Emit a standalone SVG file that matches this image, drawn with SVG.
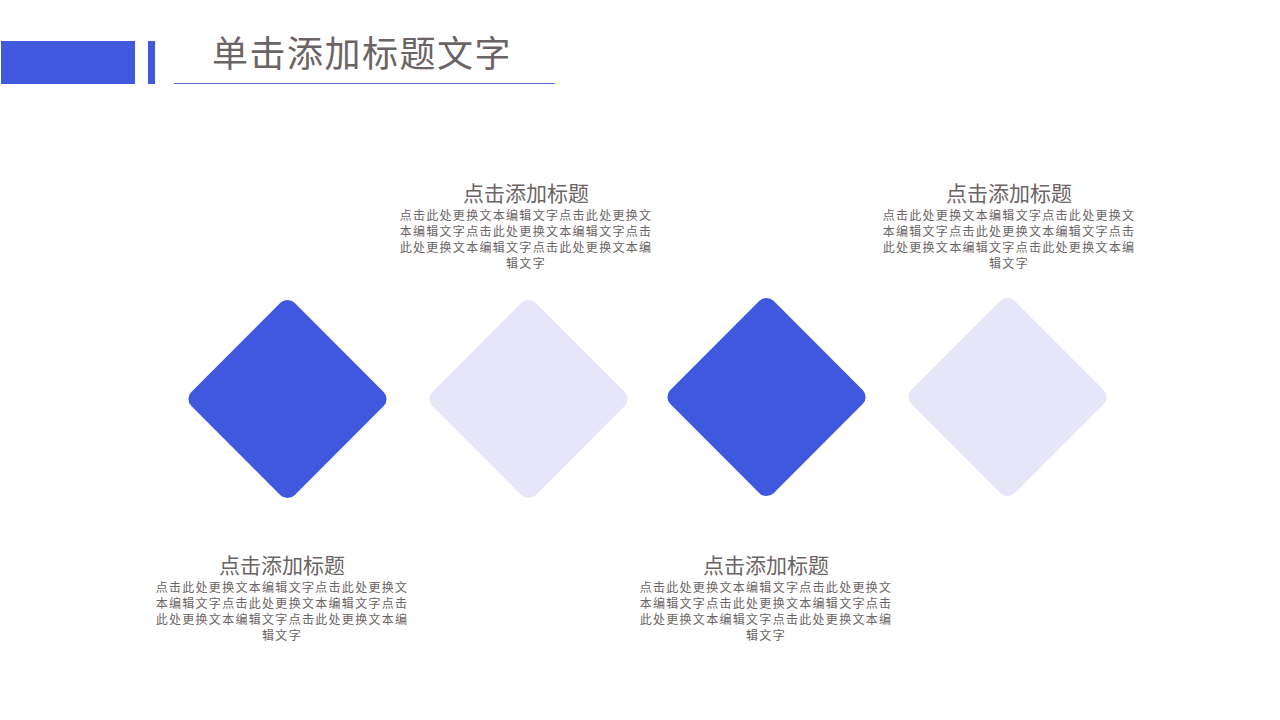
<svg xmlns="http://www.w3.org/2000/svg" width="1280" height="720" viewBox="0 0 1280 720">
<style>
.t{font-family:"Noto Sans CJK SC","Liberation Sans",sans-serif;fill:#6b6464;text-anchor:middle}
.h{font-size:21px}
.b{font-size:12px;letter-spacing:1.3px}
.blue{fill:#3f58dd}
.light{fill:#e6e6f8}
</style>
<rect width="1280" height="720" fill="#fff"/>
<g id="header">
<rect x="1" y="41" width="134" height="43" class="blue"/>
<rect x="148" y="41" width="7" height="43" class="blue"/>
<line x1="174" y1="83.5" x2="555" y2="83.5" stroke="#5a6ad8" stroke-width="1"/>
<text x="362" y="67" class="t" style="font-size:36px;letter-spacing:1.5px">单击添加标题文字</text>
</g>
<g id="diamond1"><rect x="-73" y="-73" width="146" height="146" rx="10" class="blue" transform="translate(287.5 399) rotate(45)"/></g>
<g id="diamond2"><rect x="-73" y="-73" width="146" height="146" rx="10" class="light" transform="translate(528.5 399) rotate(45)"/></g>
<g id="diamond3"><rect x="-73" y="-73" width="146" height="146" rx="10" class="blue" transform="translate(766.5 397) rotate(45)"/></g>
<g id="diamond4"><rect x="-73" y="-73" width="146" height="146" rx="10" class="light" transform="translate(1007.5 397) rotate(45)"/></g>
<g id="text1" class="t">
<text x="526" y="201" class="h">点击添加标题</text>
<text x="526" y="220" class="b">点击此处更换文本编辑文字点击此处更换文</text>
<text x="526" y="236" class="b">本编辑文字点击此处更换文本编辑文字点击</text>
<text x="526" y="252" class="b">此处更换文本编辑文字点击此处更换文本编</text>
<text x="526" y="268" class="b">辑文字</text>
</g>
<g id="text2" class="t">
<text x="1009" y="201" class="h">点击添加标题</text>
<text x="1009" y="220" class="b">点击此处更换文本编辑文字点击此处更换文</text>
<text x="1009" y="236" class="b">本编辑文字点击此处更换文本编辑文字点击</text>
<text x="1009" y="252" class="b">此处更换文本编辑文字点击此处更换文本编</text>
<text x="1009" y="268" class="b">辑文字</text>
</g>
<g id="text3" class="t">
<text x="282" y="573" class="h">点击添加标题</text>
<text x="282" y="592" class="b">点击此处更换文本编辑文字点击此处更换文</text>
<text x="282" y="608" class="b">本编辑文字点击此处更换文本编辑文字点击</text>
<text x="282" y="624" class="b">此处更换文本编辑文字点击此处更换文本编</text>
<text x="282" y="640" class="b">辑文字</text>
</g>
<g id="text4" class="t">
<text x="766" y="573" class="h">点击添加标题</text>
<text x="766" y="592" class="b">点击此处更换文本编辑文字点击此处更换文</text>
<text x="766" y="608" class="b">本编辑文字点击此处更换文本编辑文字点击</text>
<text x="766" y="624" class="b">此处更换文本编辑文字点击此处更换文本编</text>
<text x="766" y="640" class="b">辑文字</text>
</g>
<g id="connectors"/>
</svg>
